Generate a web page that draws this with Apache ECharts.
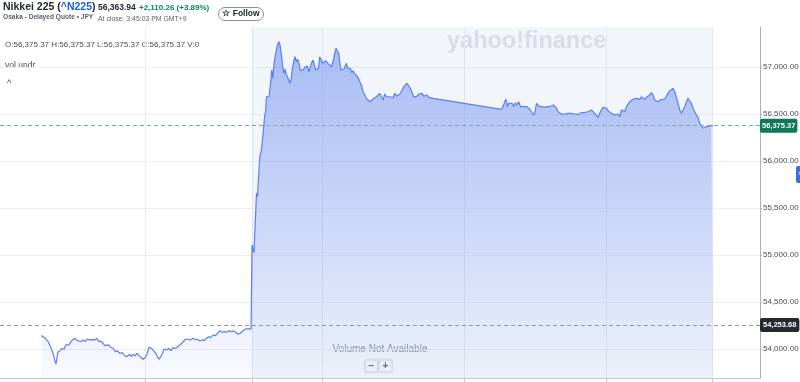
<!DOCTYPE html>
<html><head><meta charset="utf-8">
<script src="https://cdn.jsdelivr.net/npm/echarts@6.0.0/dist/echarts.min.js"></script>
<style>html,body{margin:0;padding:0;background:#fff}#c{width:800px;height:382px}</style>
</head><body><div id="c"></div>
<script>
// time in minutes after midnight (JST), price in index points
const times = [
362.1,363.4,364.9,366.3,367.7,369.7,371.9,373.3,374.4,375.9,377.6,379.5,381.2,382.6,384.1,385.4,386.9,388.3,390,391.7,
393.6,395.3,397.3,399,400.7,402.9,405.2,407.2,408.9,410.6,412.3,414.2,415.6,417.1,419,420.7,422.7,424.7,426.4,428.3,
430.3,432,434,435.3,436.8,438.2,439.6,441.3,443,444.7,446.3,448,449.7,451.4,453.1,455.1,457.1,458.8,460.2,461.6,
463,464.5,465.8,467.8,469.8,471.5,473.4,475.5,477.1,479.1,480.8,482.5,484.2,486.1,488.1,490.3,492.4,494.3,496,498,
500,501.7,503.6,505.3,507.3,509.3,511,512.9,514.9,516.9,518.8,520.8,522.5,524.5,526.5,528.4,530.4,532.6,534.9,536.9,539.4,
540.2,541.1,541.9,544,544.8,545.3,546.8,548.2,549.6,551,551.7,552.4,553.8,554.6,555.8,556.9,557.8,558.9,560.3,561.4,
562.8,563.9,565.1,566.2,567.1,568.2,569.4,570.7,572.1,573.2,574.4,575.5,576.6,577.8,578.9,580,581.2,582.3,583.4,584.8,
585.9,587.1,588.2,589.3,590.5,591.9,593,594.1,595.2,596.4,597.5,599,600.1,601.2,602.3,603.5,604.5,606,607.4,608.8,
610.2,611.3,612.5,613.6,614.4,615.5,616.7,617.8,618.9,620.1,621.2,622.3,623.5,624.6,625.7,626.9,628,629.1,630.3,631.4,
632.8,634.2,635.6,637,638.4,639.8,641.3,642.6,644.1,645.5,646.8,648.3,649.7,651.1,652.5,654,655.3,656.7,658.2,659.5,
661,662.9,664.4,665.8,667.2,668.6,670,671.4,672.8,674.3,675.6,677.1,678.5,679.8,681.3,682.7,684.1,685.5,686.9,688.3,
689.7,691.2,693.4,
751.2,752.6,754,755.1,756.3,757.4,758.9,760.2,761.7,763.1,764.4,765.9,767.3,768.7,770.1,771.6,772.9,774.3,775.8,777.1,
778.6,779.7,780.9,782.2,783.6,785.6,787.9,789.8,792.1,793.5,794.9,796.3,797.8,799.1,800.6,802,803.4,804.8,806.2,807.6,
809,810.5,811.8,813.3,814.7,816.1,817.5,818.9,820.3,821.7,823.2,824.5,826,827.4,828.7,830.2,831.6,833,834.4,835.8,
837.3,838.6,840.1,841.4,842.9,844.3,845.7,847.1,848.5,849.9,851.3,852.8,854.1,855.6,857,858.4,859.8,861.2,862.6,864,
865.5,866.8,868.2,869.7,871,872.5,873.9,875.3,876.7,878.2,879.5,880.9,882.4,883.7,885.2,886.6,888,889.4,890.8,892.2,
893.6,895.1,896.4,897.9,899.3,900.7,902.1,903.6,904.9,906.3,907.8,909.1,910.5,912,913.3,914.8,916.2,917.6,919,920.5,
921.8,923.2,924.7,926.1,928.9,930.3
];
const prices = [
54142,54160,54120,54114,54078,54025,53954,53883,53840,53965,53979,54007,53997,54043,54061,54043,54078,54071,54114,54096,
54085,54078,54096,54078,54103,54096,54099,54096,54114,54078,54085,54061,54035,54050,54043,54018,54007,53971,53979,53954,
53961,53936,53918,53936,53944,53918,53944,53926,53954,53926,53912,53890,53907,53944,54018,54007,53979,53954,53918,53890,
53918,53954,54000,53989,54007,53982,54014,54007,54018,54043,54061,54085,54103,54106,54096,54114,54099,54103,54085,54096,
54088,54114,54131,54120,54149,54142,54167,54195,54178,54184,54178,54195,54184,54192,54178,54156,54167,54195,54213,54213,54213,
55106,55117,55024,55656,55620,55603,56046,56117,56295,56489,56516,56684,56702,56684,56808,56968,56880,57039,57146,57216,
57269,57234,57128,57003,56933,56976,56915,56880,56827,56862,56986,57056,57110,57056,57082,57039,56968,56986,56968,56997,
56976,57011,56950,56986,57039,57074,57021,56968,56976,56986,57110,57103,57039,57056,57067,57056,57039,57021,57003,57056,
57146,57199,57188,57146,57056,56968,56950,56976,56997,57039,56986,56968,56986,56939,56961,56933,56939,56904,56880,56844,
56808,56737,56720,56667,56684,56631,56649,56660,56649,56684,56667,56720,56684,56649,56713,56684,56702,56684,56691,56673,
56720,56691,56691,56720,56737,56790,56808,56827,56798,56773,56755,56678,56684,56691,56713,56702,56720,56691,56678,56702,
56678,56667,56667,
56550,56578,56631,56660,56578,56614,56596,56614,56578,56620,56596,56631,56578,56561,56578,56596,56578,56561,56543,56514,
56489,56524,56614,56631,56578,56578,56571,56578,56578,56585,56596,56614,56561,56524,56514,56500,56489,56500,56497,56507,
56514,56507,56514,56500,56507,56497,56507,56514,56507,56518,56514,56524,56507,56543,56550,56507,56514,56465,56507,56543,
56571,56578,56561,56535,56514,56507,56507,56489,56479,56500,56471,56543,56550,56524,56578,56606,56631,56641,56656,56641,
56667,56684,56656,56684,56678,56656,56678,56678,56702,56727,56702,56649,56631,56631,56638,56656,56660,56660,56678,56720,
56748,56737,56773,56737,56720,56614,56543,56507,56524,56578,56631,56667,56641,56614,56561,56543,56489,56465,56401,56376,
56348,56330,56365,56376,56376,56375.37
];
const prevClose = 54253.68;
const lastPrice = 56375.37;
const yTicks = [54000, 54500, 55000, 55500, 56000, 56500, 57000];
const xTicks = [450, 540, 600, 720, 840, 930];   // 7:30, 9:00, 10:00, 12:00, 14:00, 15:30
const sessionStart = 540;
const sessionEnd = 930;

const titleName = 'Nikkei 225 (';
const titleSymbol = '^N225';
const subtitle = 'Osaka - Delayed Quote • JPY';
const quotePrice = '56,363.94';
const quoteChange = '+2,110.26 (+3.89%)';
const closeText = 'At close: 3:45:03 PM GMT+9';
const ohlcText = 'O:56,375.37 H:56,375.37 L:56,375.37 C:56,375.37 V:0';

const FF = '"Liberation Sans", Arial, sans-serif';
const fmt = v => Number(v).toLocaleString('en-US', {minimumFractionDigits: 2, maximumFractionDigits: 2});

const chart = echarts.init(document.getElementById('c'), null, {renderer: 'canvas'});
chart.setOption({
  animation: false,
  backgroundColor: '#ffffff',
  grid: {left: 0, right: 40, top: 27, bottom: 4, outerBoundsMode: 'none', containLabel: false},
  xAxis: {
    type: 'value', min: 327, max: 970,
    axisLine: {show: true, lineStyle: {color: '#c3c7cc'}},
    axisTick: {show: true, customValues: xTicks, length: 5, lineStyle: {color: '#c3c7cc'}},
    axisLabel: {show: false, customValues: xTicks},
    splitLine: {show: true, lineStyle: {color: '#e8ebef'}}
  },
  yAxis: {
    type: 'value', position: 'right', min: 53691, max: 57426, splitNumber: 7,
    axisLine: {show: true, lineStyle: {color: '#aeb2b7'}},
    axisTick: {show: true, customValues: yTicks, length: 2, lineStyle: {color: '#aeb2b7'}},
    axisLabel: {customValues: yTicks, formatter: fmt, color: '#464e56', fontSize: 8, margin: 3, fontFamily: FF},
    splitLine: {show: true, lineStyle: {color: '#eceef1'}}
  },
  series: [{
    type: 'line',
    data: times.map((t, i) => [t, prices[i]]),
    showSymbol: false, symbol: 'none',
    lineStyle: {color: '#5b7ff0', width: 1.2},
    areaStyle: {
      origin: 'start',
      color: new echarts.graphic.LinearGradient(0, 0, 0, 1, [
        {offset: 0, color: 'rgba(84,124,240,0.68)'},
        {offset: 1, color: 'rgba(84,124,240,0.05)'}
      ])
    },
    markArea: {
      silent: true,
      itemStyle: {color: 'rgba(200,215,235,0.24)'},
      data: [[{xAxis: sessionStart}, {xAxis: sessionEnd}]]
    },
    markLine: {
      silent: true, symbol: 'none',
      data: [
        {yAxis: prevClose, lineStyle: {color: '#90969c', type: [4, 3], width: 1},
         label: {position: 'end', distance: 0, formatter: () => fmt(prevClose), color: '#fff', fontSize: 7.5, fontWeight: 'bold',
                 fontFamily: FF, backgroundColor: '#232a31', padding: [3, 3, 3, 3], borderRadius: 2}},
        {yAxis: lastPrice, lineStyle: {color: '#6db49a', type: [4, 3], width: 1},
         label: {position: 'end', distance: 0, formatter: () => fmt(lastPrice), color: '#fff', fontSize: 7.5, fontWeight: 'bold',
                 fontFamily: FF, backgroundColor: '#0f7a5a', padding: [3, 2, 3, 2], borderRadius: 2}}
      ]
    }
  }],
  graphic: [
    {type: 'text', x: 3, y: 7.5, style: {
      text: '{a|' + titleName + '}{b|' + titleSymbol + '}{a|)}', textVerticalAlign: 'middle',
      rich: {a: {fill: '#232a31', fontSize: 10.5, fontWeight: 'bold', fontFamily: FF},
             b: {fill: '#1a5fd8', fontSize: 10.5, fontWeight: 'bold', fontFamily: FF}}}},
    {type: 'text', x: 3, y: 17.5, style: {text: subtitle, fill: '#5b636a', fontSize: 6.6, fontWeight: 'bold', fontFamily: FF, textVerticalAlign: 'middle'}},
    {type: 'text', x: 98, y: 7.5, style: {text: quotePrice, fill: '#232a31', fontSize: 8.5, fontWeight: 'bold', fontFamily: FF, textVerticalAlign: 'middle'}},
    {type: 'text', x: 139, y: 7.5, style: {text: quoteChange, fill: '#008a5d', fontSize: 8, fontWeight: 'bold', fontFamily: FF, textVerticalAlign: 'middle'}},
    {type: 'text', x: 98, y: 19, style: {text: closeText, fill: '#5b636a', fontSize: 6.9, fontFamily: FF, textVerticalAlign: 'middle'}},
    {type: 'rect', shape: {x: 218.5, y: 7.5, width: 45, height: 13, r: 6.5}, style: {fill: '#fff', stroke: '#8b9095', lineWidth: 1}},
    {type: 'text', x: 241, y: 14, style: {text: '☆ Follow', fill: '#232a31', fontSize: 8.5, fontWeight: 'bold', fontFamily: FF, textAlign: 'center', textVerticalAlign: 'middle'}},
    {type: 'text', x: 5, y: 45, style: {text: ohlcText, fill: '#464e56', fontSize: 8, fontFamily: FF, textVerticalAlign: 'middle'}},
    {type: 'text', x: 5, y: 66, style: {text: 'vol undr', fill: '#464e56', fontSize: 8.5, fontFamily: FF, textVerticalAlign: 'middle'}},
    {type: 'text', x: 7, y: 84, style: {text: '^', fill: '#464e56', fontSize: 9, fontFamily: FF, textVerticalAlign: 'middle'}},
    {type: 'text', x: 447, y: 42, style: {text: 'yahoo!finance', fill: '#dce1e8', fontSize: 23.5, fontWeight: 'bold', fontFamily: FF, textVerticalAlign: 'middle'}},
    {type: 'text', x: 380, y: 349, style: {text: 'Volume Not Available', fill: '#7c838a', fontSize: 10, fontFamily: FF, textAlign: 'center', textVerticalAlign: 'middle'}},
    {type: 'rect', shape: {x: 365, y: 360, width: 13, height: 12, r: 1}, style: {fill: '#fff', stroke: '#e2e4e7', shadowBlur: 2, shadowColor: 'rgba(0,0,0,0.15)'}},
    {type: 'rect', shape: {x: 379, y: 360, width: 13, height: 12, r: 1}, style: {fill: '#fff', stroke: '#e2e4e7', shadowBlur: 2, shadowColor: 'rgba(0,0,0,0.15)'}},
    {type: 'text', x: 371.5, y: 366, style: {text: '−', fill: '#464e56', fontSize: 10, fontWeight: 'bold', fontFamily: FF, textAlign: 'center', textVerticalAlign: 'middle'}},
    {type: 'text', x: 385.5, y: 366, style: {text: '+', fill: '#464e56', fontSize: 10, fontWeight: 'bold', fontFamily: FF, textAlign: 'center', textVerticalAlign: 'middle'}},
    {type: 'rect', shape: {x: 796, y: 166, width: 8, height: 17, r: 2}, style: {fill: '#3d6be0'}},
    {type: 'text', x: 798, y: 174, style: {text: '›', fill: '#fff', fontSize: 9, fontFamily: FF, textVerticalAlign: 'middle'}}
  ]
});
</script></body></html>
